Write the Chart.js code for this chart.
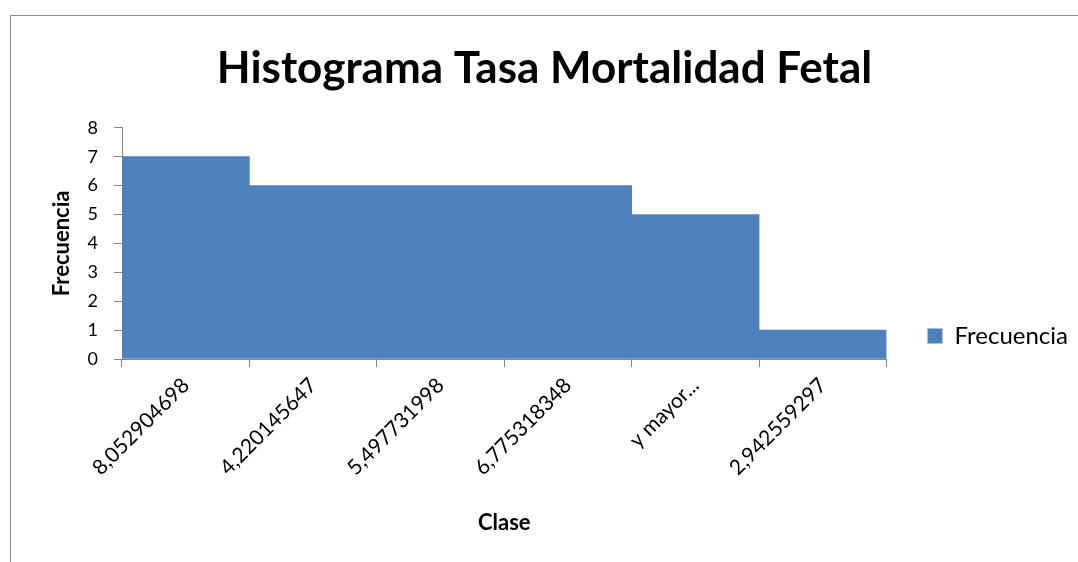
<!DOCTYPE html>
<html>
<head>
<meta charset="utf-8">
<script src="https://cdn.jsdelivr.net/npm/chart.js@4"></script>
<style>
  html, body { margin: 0; padding: 0; background: #fff; overflow: hidden; }
  .frame {
    position: absolute; left: 10px; top: 15px;
    width: 1100px; height: 600px;
    border-left: 1px solid #8c8c8c; border-top: 1px solid #8c8c8c;
  }
  .chart { position: absolute; left: 11px; top: 16px; width: 1067px; height: 546px; }
</style>
</head>
<body>
<div class="frame"></div>
<div class="chart"><canvas id="myChart"></canvas></div>
<script>
// data
const clases = ['8,052904698', '4,220145647', '5,497731998', '6,775318348', 'y mayor...', '2,942559297'];
const frecuencia = [7, 6, 6, 6, 5, 1];
const yTicks = [0, 1, 2, 3, 4, 5, 6, 7, 8];

const FONT = "Lato, 'Open Sans', sans-serif";
const axisGrey = '#868686';
const barBlue = '#4F81BD';

const ctx = document.getElementById('myChart').getContext('2d');
new Chart(ctx, {
  type: 'bar',
  data: {
    labels: clases,
    datasets: [{
      label: 'Frecuencia',
      data: frecuencia,
      backgroundColor: barBlue,
      borderWidth: 0,
      barPercentage: 1,
      categoryPercentage: 1
    }]
  },
  options: {
    responsive: true,
    maintainAspectRatio: false,
    animation: false,
    layout: { padding: 0 },
    plugins: {
      title: {
        display: true,
        text: 'Histograma Tasa Mortalidad Fetal',
        color: '#000',
        font: { family: FONT, size: 44, weight: 'bold' },
        padding: { top: 26, bottom: 33 }
      },
      legend: {
        position: 'right',
        // empty title only pushes the item down to where excel had it
        title: { display: true, text: '', font: { size: 10 }, padding: { top: 82, bottom: 0 } },
        labels: {
          color: '#000',
          font: { family: FONT, size: 24 },
          boxWidth: 15, boxHeight: 15,
          padding: 41
        }
      },
      tooltip: { enabled: false }
    },
    scales: {
      x: {
        afterFit: (axis) => { axis.height = 203; },
        grid: { offset: true, drawOnChartArea: false, color: axisGrey, tickLength: 8 },
        border: { color: axisGrey },
        ticks: {
          color: '#000',
          font: { family: FONT, size: 21 },
          maxRotation: 45, minRotation: 45,
          autoSkip: false,
          padding: 6
        },
        title: {
          display: true, text: 'Clase', color: '#000',
          font: { family: FONT, size: 22, weight: 'bold' },
          padding: { top: 0, bottom: 26 }
        }
      },
      y: {
        min: 0, max: 8,
        afterBuildTicks: (axis) => { axis.ticks = yTicks.map(v => ({ value: v })); },
        afterFit: (axis) => { axis.width = 111; },
        grid: { drawOnChartArea: false, color: axisGrey, tickLength: 8 },
        border: { color: axisGrey },
        ticks: { color: '#000', font: { family: FONT, size: 18 }, padding: 16 },
        title: {
          display: true, text: 'Frecuencia', color: '#000',
          font: { family: FONT, size: 22, weight: 'bold' },
          padding: { top: 38, bottom: 0 }
        }
      }
    }
  }
});
</script>
</body>
</html>
